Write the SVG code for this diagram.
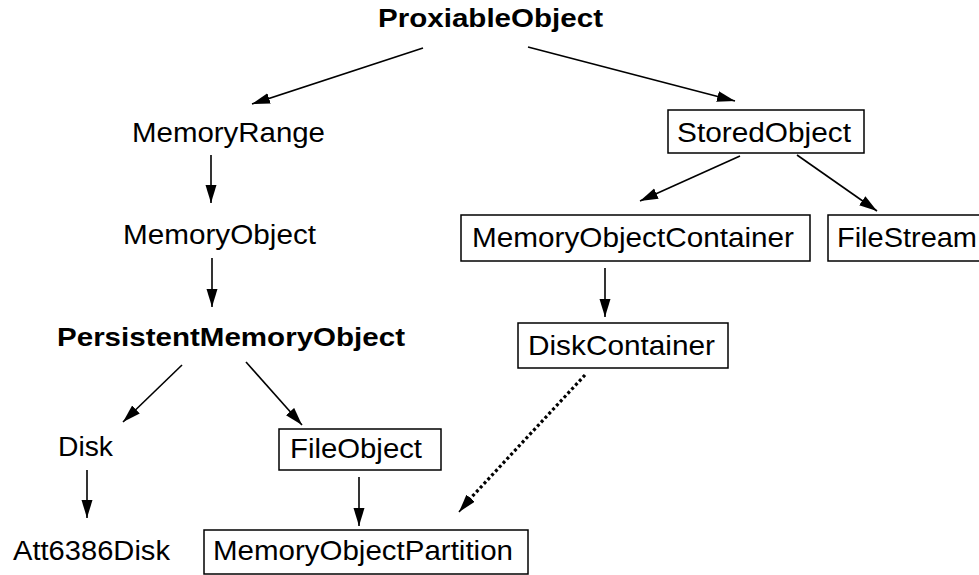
<svg xmlns="http://www.w3.org/2000/svg" width="979" height="575" viewBox="0 0 979 575">
<defs>
<style>
text{font-family:"Liberation Sans",Arial,sans-serif;font-size:27.5px;fill:#000}
.b{font-weight:bold;font-size:26px}
.box{fill:#fff;stroke:#000;stroke-width:1.5}
.e{stroke:#000;stroke-width:1.6;fill:none}
.d{stroke:#000;stroke-width:3.2;fill:none;stroke-dasharray:3 2.6}
</style>
<marker id="ah" markerUnits="userSpaceOnUse" markerWidth="20" markerHeight="12" refX="18" refY="5.5" orient="auto">
<path d="M0,0 L18,5.5 L0,11 z" fill="#000"/>
</marker>
</defs>
<rect width="979" height="575" fill="#fff"/>
<g id="connectors">
<line class="e" x1="423" y1="48" x2="252" y2="104" marker-end="url(#ah)"/>
<line class="e" x1="528" y1="47" x2="735" y2="101" marker-end="url(#ah)"/>
<line class="e" x1="211" y1="155" x2="211" y2="203" marker-end="url(#ah)"/>
<line class="e" x1="212" y1="258" x2="212" y2="307" marker-end="url(#ah)"/>
<line class="e" x1="182" y1="365" x2="123" y2="422" marker-end="url(#ah)"/>
<line class="e" x1="246" y1="362" x2="302" y2="425" marker-end="url(#ah)"/>
<line class="e" x1="87" y1="470" x2="87" y2="518" marker-end="url(#ah)"/>
<line class="e" x1="359" y1="477" x2="359" y2="526" marker-end="url(#ah)"/>
<line class="e" x1="740" y1="156" x2="640" y2="201" marker-end="url(#ah)"/>
<line class="e" x1="797" y1="155" x2="877" y2="211" marker-end="url(#ah)"/>
<line class="e" x1="605" y1="268" x2="605" y2="317" marker-end="url(#ah)"/>
<line class="d" x1="585" y1="375" x2="468" y2="501"/>
<line class="e" x1="470" y1="499" x2="459" y2="512" marker-end="url(#ah)"/>
</g>
<g id="ProxiableObject"><text class="b" x="378" y="27" textLength="225" lengthAdjust="spacingAndGlyphs">ProxiableObject</text></g>
<g id="MemoryRange"><text x="132" y="142" textLength="193" lengthAdjust="spacingAndGlyphs">MemoryRange</text></g>
<g id="MemoryObject"><text x="123" y="244" textLength="193" lengthAdjust="spacingAndGlyphs">MemoryObject</text></g>
<g id="PersistentMemoryObject"><text class="b" x="57" y="346" textLength="348" lengthAdjust="spacingAndGlyphs">PersistentMemoryObject</text></g>
<g id="Disk"><text x="58" y="456" textLength="55" lengthAdjust="spacingAndGlyphs">Disk</text></g>
<g id="Att6386Disk"><text x="13" y="560" textLength="157" lengthAdjust="spacingAndGlyphs">Att6386Disk</text></g>
<g id="FileObject"><rect class="box" x="279" y="429" width="162" height="41"/><text x="290" y="458" textLength="132" lengthAdjust="spacingAndGlyphs">FileObject</text></g>
<g id="MemoryObjectPartition"><rect class="box" x="204" y="530" width="324" height="44"/><text x="213" y="560" textLength="300" lengthAdjust="spacingAndGlyphs">MemoryObjectPartition</text></g>
<g id="StoredObject"><rect class="box" x="668" y="110" width="196" height="43"/><text x="677" y="142" textLength="174" lengthAdjust="spacingAndGlyphs">StoredObject</text></g>
<g id="MemoryObjectContainer"><rect class="box" x="461" y="215" width="349" height="46"/><text x="472" y="247" textLength="322" lengthAdjust="spacingAndGlyphs">MemoryObjectContainer</text></g>
<g id="FileStream"><rect class="box" x="828" y="215" width="160" height="46"/><text x="837" y="247" textLength="140" lengthAdjust="spacingAndGlyphs">FileStream</text></g>
<g id="DiskContainer"><rect class="box" x="518" y="323" width="210" height="45"/><text x="528" y="355" textLength="187" lengthAdjust="spacingAndGlyphs">DiskContainer</text></g>
</svg>
